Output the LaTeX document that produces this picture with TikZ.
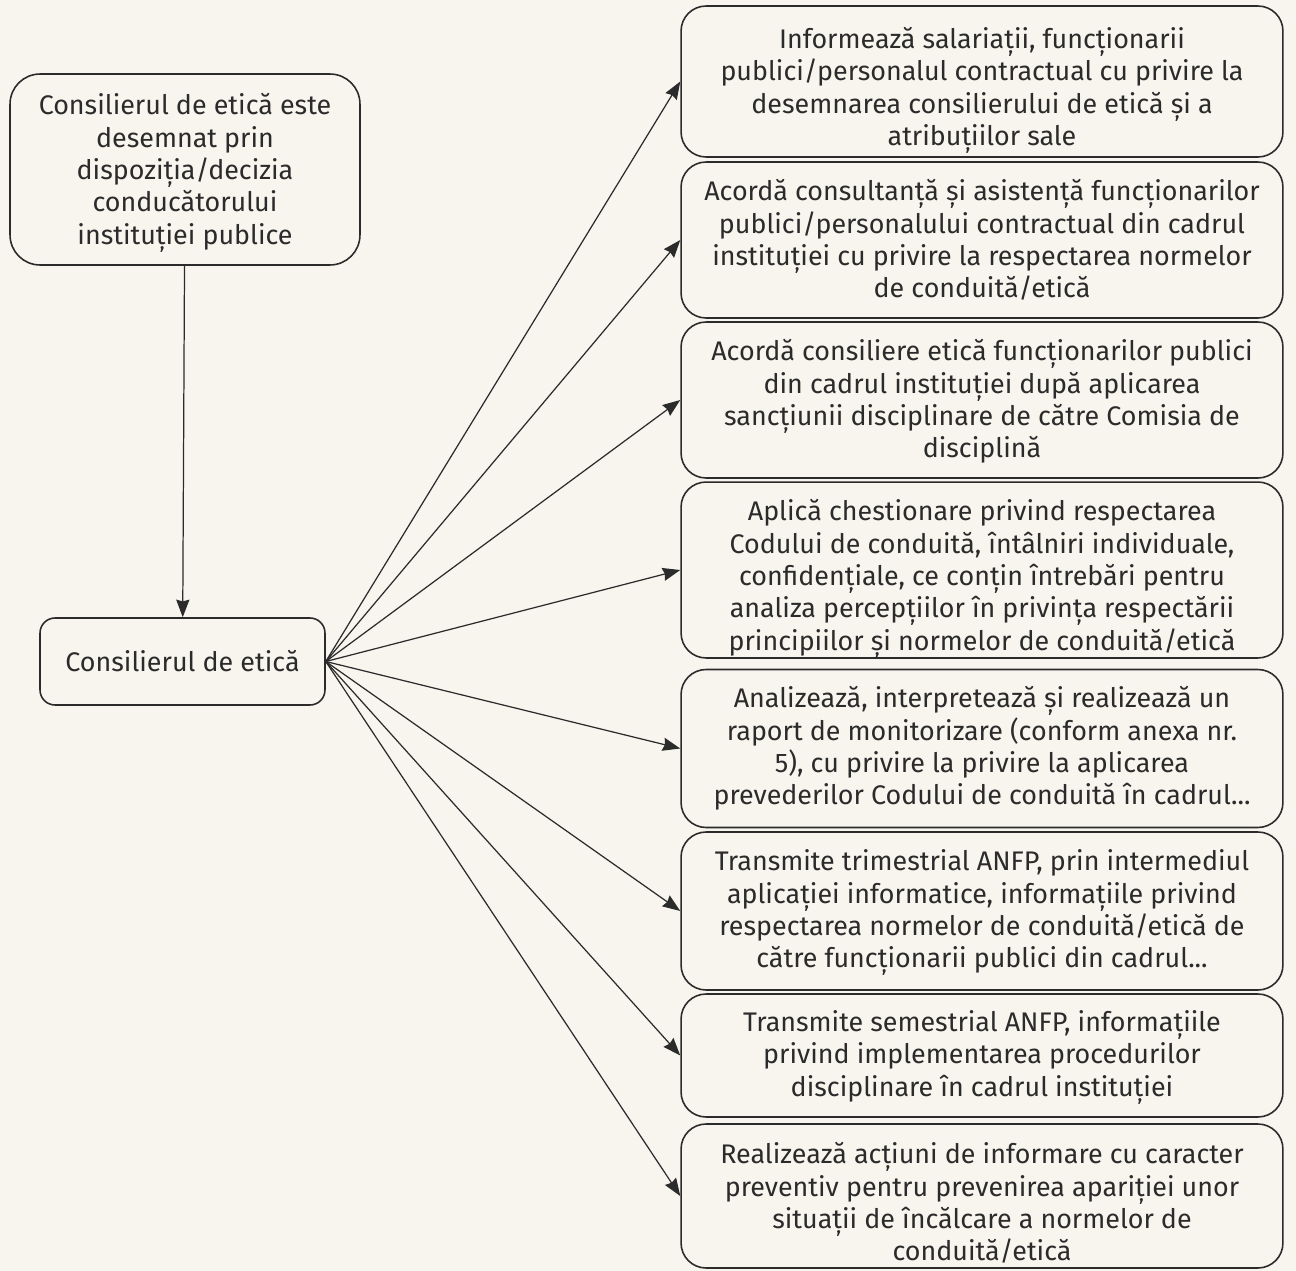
\documentclass[tikz,border=0pt]{standalone}
\usepackage{fontspec}
\setmainfont{Fira Sans}
\usepackage{tikz}
\usetikzlibrary{arrows.meta}

\definecolor{paper}{HTML}{F7F5EE}
\definecolor{ink}{HTML}{2B2B2B}
\newcommand{\lift}[1]{\rule{0pt}{#1}}

\begin{document}
\begin{tikzpicture}[x=0.02cm,y=-0.02cm,
  box/.style={draw=ink,line width=0.9pt,rounded corners=0.5cm,align=center,
    text=ink,font=\fontsize{15.3}{18.4}\selectfont,inner sep=0pt},
  rbox/.style={box,minimum width=12.04cm},
  arr/.style={draw=ink,line width=0.7pt,-{Stealth[length=10pt,width=7.5pt,inset=1pt]}}]

\fill[paper] (0,0) rectangle (1296,1271);
\useasboundingbox (0,0) rectangle (1296,1271);

\node[box,minimum width=7cm,minimum height=3.82cm,rounded corners=0.6cm] (numire) at (185,169.5)
  {\lift{16pt}Consilierul de etică este\\desemnat prin\\dispoziția/decizia\\conducătorului\\instituției publice};
\node[box,minimum width=5.7cm,minimum height=1.74cm,rounded corners=0.3cm] (cons) at (182.5,661.5)
  {Consilierul de etică};

\draw[arr] (numire) -- (cons);

\node[rbox,minimum height=3.02cm] (r1) at (982,81.5)
  {\lift{22pt}Informează salariații, funcționarii\\publici/personalul contractual cu privire la\\desemnarea consilierului de etică și a\\atribuțiilor sale};
\node[rbox,minimum height=3.12cm] (r2) at (982,240)
  {Acordă consultanță și asistență funcționarilor\\publici/personalului contractual din cadrul\\instituției cu privire la respectarea normelor\\de conduită/etică};
\node[rbox,minimum height=3.12cm] (r3) at (982,400)
  {\lift{14pt}Acordă consiliere etică funcționarilor publici\\din cadrul instituției după aplicarea\\sancțiunii disciplinare de către Comisia de\\disciplină};
\node[rbox,minimum height=3.48cm] (r4) at (982,570)
  {\lift{22pt}Aplică chestionare privind respectarea\\Codului de conduită, întâlniri individuale,\\confidențiale, ce conțin întrebări pentru\\analiza percepțiilor în privința respectării\\principiilor și normelor de conduită/etică};
\node[rbox,minimum height=3.16cm] (r5) at (982,748.5)
  {Analizează, interpretează și realizează un\\raport de monitorizare (conform anexa nr.\\5), cu privire la privire la aplicarea\\prevederilor Codului de conduită în cadrul...};
\node[rbox,minimum height=3.16cm] (r6) at (982,911)
  {\lift{14pt}Transmite trimestrial ANFP, prin intermediul\\aplicației informatice, informațiile privind\\respectarea normelor de conduită/etică de\\către funcționarii publici din cadrul...};
\node[rbox,minimum height=2.46cm] (r7) at (982,1055.5)
  {\lift{14pt}Transmite semestrial ANFP, informațiile\\privind implementarea procedurilor\\disciplinare în cadrul instituției};
\node[rbox,minimum height=2.88cm] (r8) at (982,1196)
  {\lift{20pt}Realizează acțiuni de informare cu caracter\\preventiv pentru prevenirea apariției unor\\situații de încălcare a normelor de\\conduită/etică};

\foreach \i in {1,...,8}
  \draw[arr] (cons.east) -- (r\i.west);

\end{tikzpicture}
\end{document}
